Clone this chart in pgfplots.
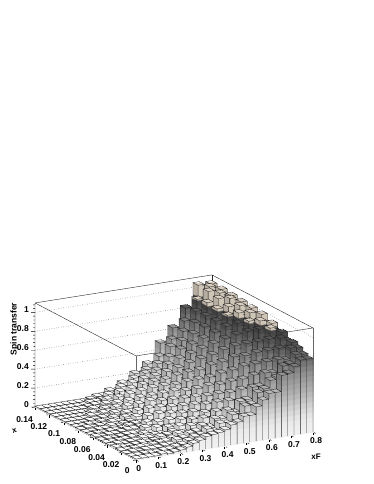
\documentclass[border=0pt]{standalone}
\usepackage{fontspec}
\setmainfont{Liberation Sans}
\usepackage{pgfplots}
\pgfplotsset{compat=1.18}
\usepgfplotslibrary{patchplots}
% ---- bin contents: one row per x bin row (y index 0..19), 28 columns of xF
\def\heights{%
{.01,.01,.01,.01,.02,.01,.02,.03,.05,.08,.10,.13,.14,.15,.17,.21,.23,.28,.28,.36,.42,.48,.48,.65,.66,.72,.78,.78},%
{.01,.01,.02,.01,.01,.02,.02,.04,.05,.08,.11,.12,.17,.14,.21,.20,.28,.25,.35,.36,.47,.50,.58,.60,.71,.72,.81,.80},%
{.01,.02,.01,.02,.02,.02,.03,.03,.07,.08,.12,.13,.18,.16,.23,.22,.30,.27,.37,.38,.50,.50,.63,.62,.75,.74,.85,.84},%
{.01,.01,.02,.02,.01,.03,.04,.04,.06,.10,.10,.16,.15,.22,.19,.27,.25,.36,.33,.46,.44,.59,.57,.71,.70,.83,.82,.87},%
{.02,.01,.01,.02,.03,.02,.03,.06,.07,.09,.14,.12,.19,.16,.24,.22,.33,.28,.41,.38,.53,.51,.67,.65,.79,.78,.90,.86},%
{.01,.02,.01,.02,.02,.04,.03,.05,.05,.11,.11,.17,.15,.23,.20,.29,.26,.38,.35,.49,.46,.63,.58,.75,.72,.87,.84,.92},%
{.01,.01,.02,.02,.03,.02,.05,.04,.09,.07,.15,.12,.20,.17,.27,.22,.34,.30,.44,.39,.57,.52,.70,.64,.83,.77,.95,.90},%
{.01,.02,.01,.02,.03,.03,.03,.07,.06,.11,.10,.18,.14,.24,.19,.31,.25,.41,.35,.52,.47,.67,.60,.79,.73,.92,.86,.96},%
{.02,.01,.02,.02,.03,.04,.04,.05,.09,.07,.16,.13,.21,.18,.28,.24,.36,.32,.46,.42,.60,.55,.75,.68,.88,.81,.97,.93},%
{.01,.02,.01,.02,.02,.03,.05,.06,.06,.12,.10,.19,.15,.25,.20,.32,.28,.42,.37,.55,.49,.69,.62,.83,.76,.95,.89,1.0},%
{.01,.01,.02,.02,.04,.02,.04,.05,.09,.08,.16,.13,.22,.18,.30,.24,.38,.32,.48,.43,.62,.56,.77,.69,.91,.84,1.0,.96},%
{.01,.02,.01,.02,.02,.04,.03,.07,.07,.12,.10,.20,.15,.26,.21,.33,.28,.44,.38,.56,.50,.70,.62,.86,.78,.98,.92,1.01},%
{.01,.01,.02,.01,.03,.02,.05,.04,.08,.08,.15,.12,.22,.17,.30,.24,.39,.32,.50,.42,.63,.56,.78,.69,.94,.85,1.02,.97},%
{.01,.01,.01,.02,.02,.03,.03,.06,.06,.11,.09,.18,.14,.26,.20,.33,.27,.43,.37,.56,.48,.70,.62,.86,.78,.99,.92,1.02},%
{.01,.01,.01,.01,.03,.02,.04,.04,.08,.06,.13,.11,.21,.16,.29,.23,.37,.31,.49,.41,.62,.55,.78,.68,.95,.85,1.04,.98},%
{.01,.01,.01,.01,.01,.03,.02,.05,.05,.09,.08,.16,.13,.24,.19,.31,.25,.41,.35,.55,.47,.69,.62,.86,.76,1.02,.90,1.03},%
{.01,.01,.01,.01,.01,.01,.03,.03,.06,.05,.11,.09,.18,.14,.26,.21,.33,.27,.45,.37,.60,.53,.77,.66,.96,.84,1.04,.98},%
{.01,.01,.01,.01,.01,.01,.02,.03,.03,.07,.06,.13,.10,.20,.16,.28,.22,.36,.30,.52,.45,.66,.60,.85,.75,1.04,.92,1.04},%
{.01,.01,.01,.01,.01,.01,.01,.03,.03,.04,.08,.07,.14,.11,.21,.17,.28,.24,.40,.35,.56,.50,.73,.65,.94,.82,1.05,1.0},%
{.01,.01,.01,.01,.01,.01,.01,.01,.02,.04,.04,.08,.07,.14,.13,.22,.20,.30,.28,.50,.48,.64,.60,.83,.78,1.05,1.0,1.04}%
}
\foreach \row [count=\j from 0] in \heights {%
  \foreach \v [count=\i from 0] in \row {%
    \expandafter\xdef\csname h\i-\j\endcsname{\v}}}
\foreach \i in {0,...,28} {\pgfmathsetmacro\t{\i*0.8/28}\expandafter\xdef\csname xe\i\endcsname{\t}}
\foreach \j in {0,...,20} {\pgfmathsetmacro\t{\j*0.007}\expandafter\xdef\csname ye\j\endcsname{\t}}
% ---- colour bands: uniform colormap, 4 entries per band of 0.055
\def\bandgray{240,238,235,228,218,208,196,185,174,165,155,145,132,118,100,85,72,-1,-1,-1,-1}
\gdef\cmapstops{}
\def\addsection#1{% factor
  \foreach \g in \bandgray {%
    \ifnum\g<0
      \pgfmathtruncatemacro\cr{min(255,208*#1)}%
      \pgfmathtruncatemacro\cg{min(255,198*#1)}%
      \pgfmathtruncatemacro\cb{min(255,184*#1)}%
    \else
      \pgfmathtruncatemacro\cr{min(255,\g*#1)}%
      \let\cg\cr \let\cb\cr
    \fi
    \xdef\cmapstops{\cmapstops rgb255=(\cr,\cg,\cb) rgb255=(\cr,\cg,\cb) rgb255=(\cr,\cg,\cb) rgb255=(\cr,\cg,\cb) }%
  }}
\addsection{1.0}
\addsection{0.88}
\addsection{1.05}
\xdef\cmapstops{\cmapstops rgb255=(215,205,190)}
\def\offx{1.155}
\def\offt{2.31}
% ---- faces and edges, one list per row, back to front
\newtoks\ct \newtoks\cl
\def\app{\global\ct\expandafter\expandafter\expandafter{\expandafter\the\expandafter\ct\tmp}}
\def\appl{\global\cl\expandafter\expandafter\expandafter{\expandafter\the\expandafter\cl\tmp}}
\foreach \j in {0,...,19} {%
  \global\ct{}\global\cl{}%
  \pgfmathtruncatemacro\jn{\j+1}\pgfmathtruncatemacro\jm{\j-1}%
  \foreach \ii in {0,...,27} {%
    \pgfmathtruncatemacro\i{27-\ii}\pgfmathtruncatemacro\in{\i+1}\pgfmathtruncatemacro\im{\i-1}%
    \edef\h{\csname h\i-\j\endcsname}%
    \edef\xa{\csname xe\i\endcsname}\edef\xb{\csname xe\in\endcsname}%
    \edef\ya{\csname ye\j\endcsname}\edef\yb{\csname ye\jn\endcsname}%
    % face towards -x
    \ifnum\i=0 \def\nb{0}\else\edef\nb{\csname h\im-\j\endcsname}\fi
    \ifdim\h pt<\nb pt
      % the bar in front is taller: the hidden part of the top outline is left out
      \pgfmathsetmacro\xm{(\xa+\xb)/2}%
      \edef\tmp{(\xa,\ya,\h)(\xb,\ya,\h)(\xb,\yb,\h)(\xm,\yb,\h)(nan,nan,nan)}\appl
    \else
      \edef\tmp{(\xb,\ya,\h)(\xa,\ya,\h)(\xa,\yb,\h)(\xb,\yb,\h)(\xb,\ya,\h)(nan,nan,nan)}\appl
    \fi
    \ifdim\h pt>\nb pt
      \pgfmathsetmacro\ma{\offx+\nb}\pgfmathsetmacro\mb{\offx+\h}%
      \edef\tmp{(\xa,\ya,\nb)[\ma](\xa,\yb,\nb)[\ma](\xa,\yb,\h)[\mb](\xa,\ya,\h)[\mb]}\app
      \edef\tmp{(\xa,\yb,\nb)(\xa,\yb,\h)(nan,nan,nan)(\xa,\ya,\nb)(\xa,\ya,\h)(nan,nan,nan)}\appl
    \fi
    % face towards -y
    \ifnum\j=0 \def\nb{0}\else\edef\nb{\csname h\i-\jm\endcsname}\fi
    \ifdim\h pt>\nb pt
      \edef\tmp{(\xa,\ya,\nb)[\nb](\xb,\ya,\nb)[\nb](\xb,\ya,\h)[\h](\xa,\ya,\h)[\h]}\app
      \edef\tmp{(\xb,\ya,\nb)(\xb,\ya,\h)(nan,nan,nan)(\xa,\ya,\nb)(\xa,\ya,\h)(nan,nan,nan)}\appl
    \fi
    % top
    \pgfmathsetmacro\mb{\offt+\h}%
    \edef\tmp{(\xa,\ya,\h)[\mb](\xb,\ya,\h)[\mb](\xb,\yb,\h)[\mb](\xa,\yb,\h)[\mb]}\app
  }%
  \expandafter\xdef\csname fill\j\endcsname{\the\ct}%
  \expandafter\xdef\csname edge\j\endcsname{\the\cl}%
}
\pgfplotsset{legostyle/.style={forget plot,patch,patch type=rectangle,shader=interp,point meta=explicit},
 edgestyle/.style={forget plot,black!85,line width=0.35pt,mark=none,unbounded coords=jump}}
\edef\x{\noexpand\pgfplotsset{colormap={lego}{\cmapstops}}}\x
\begin{document}
\begin{tikzpicture}
\useasboundingbox (0,0) rectangle (374pt,484pt);
\begin{axis}[
  at={(136pt,24pt)},anchor=origin,
  x={(221.25pt,35pt)},y={(-721.4pt,378.6pt)},z={(0pt,94.6pt)},
  xmin=0,xmax=0.8,ymin=0,ymax=0.14,zmin=0,zmax=1.1,
  clip=false,
  colormap name=lego,point meta min=0,point meta max=3.465,
  xtick={0,0.1,...,0.8},ytick={0,0.02,...,0.14},ztick={0,0.2,...,1},
  xtick pos=left,ytick pos=left,ztick pos=left,
  minor x tick num=0,minor y tick num=0,minor z tick num=0,
  tick align=outside,tick style={black,line width=0.4pt},
  ztick style={draw=none},major z tick style={draw=none},
  major tick length=3pt,minor tick length=1.5pt,
  axis line style={draw=none},
  zmajorgrids=true,xmajorgrids=false,ymajorgrids=false,
  major grid style={dotted,black!80,line width=0.4pt},
  scaled ticks=false,
  /pgf/number format/assume math mode=true,
  /pgf/number format/fixed,/pgf/number format/precision=2,
  tick label style={font=\bfseries\fontsize{8.5}{10}\selectfont},
  xticklabel style={xshift=-4pt},
  yticklabel style={yshift=-3pt},
  xlabel={xF},ylabel={x},zlabel={Spin transfer},
  every axis x label/.style={at={(rel axis cs:1,0,0)},anchor=north,yshift=-18pt,xshift=3pt,font=\bfseries\fontsize{8}{10}\selectfont},
  every axis y label/.style={at={(rel axis cs:0,1,0)},anchor=north,yshift=-18pt,xshift=-22pt,rotate=15,font=\bfseries\fontsize{8}{10}\selectfont},
  every axis z label/.style={at={(rel axis cs:0,1,1)},anchor=south,rotate=90,yshift=13pt,xshift=-26pt,font=\bfseries\fontsize{8.5}{10}\selectfont},
]
\addplot3[forget plot,black!85,line width=0.4pt,mark=none] coordinates {
 (0,0.14,0)(0,0.14,1.1)(0.8,0.14,1.1)(0.8,0,1.1)(0,0,1.1)(0,0.14,1.1)};
\addplot3[forget plot,black!85,line width=0.4pt,mark=none] coordinates {(0.8,0.14,0)(0.8,0.14,1.1)};
\addplot3[forget plot,black!60,line width=0.4pt,mark=none] coordinates {(0,0,0)(0,0,1.1)};
\addplot3[forget plot,black!60,line width=0.4pt,mark=none] coordinates {(0.8,0,0)(0.8,0,1.1)};
\addplot3[forget plot,black,line width=0.4pt,mark=none] coordinates {(0,0.14,0)(0,0,0)(0.8,0,0)};
% tick marks of the height axis, on its left edge only
\addplot3[forget plot,black,line width=0.4pt,mark=none,unbounded coords=jump] coordinates {
 (0,0.14,0)(-0.0139,0.14128,0)(nan,nan,nan) (0,0.14,0.2)(-0.0139,0.14128,0.2)(nan,nan,nan)
 (0,0.14,0.4)(-0.0139,0.14128,0.4)(nan,nan,nan) (0,0.14,0.6)(-0.0139,0.14128,0.6)(nan,nan,nan)
 (0,0.14,0.8)(-0.0139,0.14128,0.8)(nan,nan,nan) (0,0.14,1)(-0.0139,0.14128,1)(nan,nan,nan)
 (0,0.14,0.04)(-0.00695,0.14064,0.04)(nan,nan,nan) (0,0.14,0.08)(-0.00695,0.14064,0.08)(nan,nan,nan)
 (0,0.14,0.12)(-0.00695,0.14064,0.12)(nan,nan,nan) (0,0.14,0.16)(-0.00695,0.14064,0.16)(nan,nan,nan)
 (0,0.14,0.24)(-0.00695,0.14064,0.24)(nan,nan,nan) (0,0.14,0.28)(-0.00695,0.14064,0.28)(nan,nan,nan)
 (0,0.14,0.32)(-0.00695,0.14064,0.32)(nan,nan,nan) (0,0.14,0.36)(-0.00695,0.14064,0.36)(nan,nan,nan)
 (0,0.14,0.44)(-0.00695,0.14064,0.44)(nan,nan,nan) (0,0.14,0.48)(-0.00695,0.14064,0.48)(nan,nan,nan)
 (0,0.14,0.52)(-0.00695,0.14064,0.52)(nan,nan,nan) (0,0.14,0.56)(-0.00695,0.14064,0.56)(nan,nan,nan)
 (0,0.14,0.64)(-0.00695,0.14064,0.64)(nan,nan,nan) (0,0.14,0.68)(-0.00695,0.14064,0.68)(nan,nan,nan)
 (0,0.14,0.72)(-0.00695,0.14064,0.72)(nan,nan,nan) (0,0.14,0.76)(-0.00695,0.14064,0.76)(nan,nan,nan)
 (0,0.14,0.84)(-0.00695,0.14064,0.84)(nan,nan,nan) (0,0.14,0.88)(-0.00695,0.14064,0.88)(nan,nan,nan)
 (0,0.14,0.92)(-0.00695,0.14064,0.92)(nan,nan,nan) (0,0.14,0.96)(-0.00695,0.14064,0.96)(nan,nan,nan)
 (0,0.14,1.04)(-0.00695,0.14064,1.04)(nan,nan,nan) (0,0.14,1.08)(-0.00695,0.14064,1.08)
};
\foreach \jj in {0,...,19} {%
  \pgfmathtruncatemacro\j{19-\jj}%
  \edef\doit{\noexpand\addplot3[legostyle] coordinates {\csname fill\j\endcsname};
             \noexpand\addplot3[edgestyle] coordinates {\csname edge\j\endcsname};}\doit
}
\end{axis}
\end{tikzpicture}
\end{document}
